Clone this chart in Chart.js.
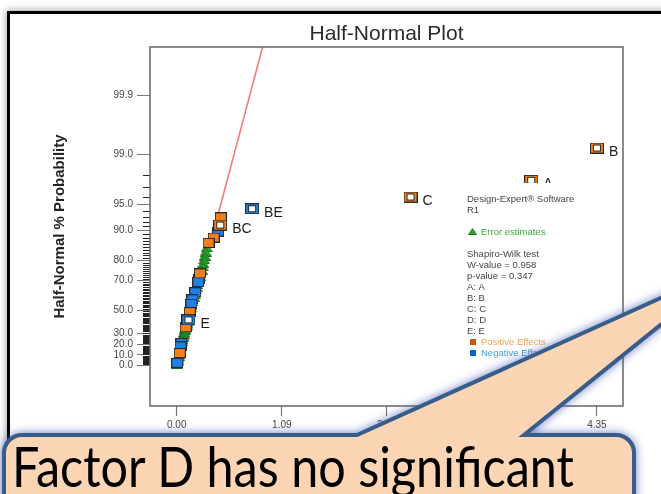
<!DOCTYPE html>
<html>
<head>
<meta charset="utf-8">
<script src="https://cdn.jsdelivr.net/npm/chart.js@4.4.1/dist/chart.umd.min.js"></script>
<style>
  html, body { margin: 0; padding: 0; background: #fff; }
  #stage { position: relative; width: 661px; height: 494px; overflow: hidden; background: #fff; }
  #frame { position: absolute; left: 7px; top: 11px; width: 720px; height: 540px;
           border: 3px solid #000; background: #fff; box-shadow: 0 0 7px 1px rgba(0,0,0,0.35); }
  #plot { position: absolute; left: 0; top: 0; }
  #note { position: absolute; left: 0; top: 0; pointer-events: none; }
</style>
</head>
<body>
<div id="stage">
  <div id="frame"></div>
  <canvas id="plot" width="661" height="494"></canvas>
  <svg id="note" width="661" height="494" viewBox="0 0 661 494">
    <defs>
      <filter id="glow" x="-10%" y="-40%" width="120%" height="180%">
        <feGaussianBlur in="SourceAlpha" stdDeviation="5" result="blur"/>
        <feFlood flood-color="#4b63b5" flood-opacity="0.8"/>
        <feComposite in2="blur" operator="in" result="halo"/>
        <feMerge><feMergeNode in="halo"/><feMergeNode in="SourceGraphic"/></feMerge>
      </filter>
    </defs>
    <path d="M4,600 L4,453 A18,18 0 0 1 22,435 L357,435 L736,264 L524,435 L616,435 A18,18 0 0 1 634,453 L634,600 Z"
          fill="#fcd5b5" stroke="#385d8a" stroke-width="4" stroke-linejoin="miter" filter="url(#glow)"/>
    <text x="12" y="487" font-family="Lato, 'Open Sans', sans-serif" font-size="56" fill="#000"
          textLength="562" lengthAdjust="spacingAndGlyphs">Factor D has no significant</text>
  </svg>
</div>
<script>
// ---- Effect estimates (|effect|) and their half-normal % probability ----
// Model terms (labelled)
const termNames = ['B', 'A', 'C', 'BE', 'BC', 'E'];
const termEffects = [4.35, 3.67, 2.42, 0.78, 0.45, 0.121];
const termPct = [99.2, 97.6, 96.0, 94.4, 91.3, 42.1];
const termSigns = ['+', '+', '+', '-', '+', '-'];

// Unselected positive effects
const positiveEffects = [0.456, 0.383, 0.329, 0.240, 0.135, 0.093, 0.031];
const positivePct = [92.9, 88.1, 86.5, 73.8, 48.4, 35.7, 11.9];

// Unselected negative effects
const negativeEffects = [0.428, 0.231, 0.223, 0.192, 0.163, 0.152, 0.049, 0.039, 0.005];
const negativePct = [89.7, 70.6, 69.0, 62.7, 57.9, 54.8, 21.4, 18.3, 2.4];

// Error estimates
const errorEffects = [0.311, 0.300, 0.290, 0.285, 0.275, 0.270, 0.260, 0.236, 0.212, 0.207,
                      0.197, 0.187, 0.176, 0.159, 0.148, 0.143, 0.138, 0.131, 0.126, 0.124,
                      0.114, 0.109, 0.104, 0.088, 0.083, 0.078, 0.073, 0.067, 0.062, 0.057,
                      0.055, 0.045, 0.036, 0.034, 0.032, 0.026, 0.021, 0.018, 0.013, 0.010, 0.000];
const errorPct = [84.9, 83.3, 81.7, 80.2, 78.6, 77.0, 75.4, 72.2, 67.5, 65.9,
                  64.3, 61.1, 59.5, 56.3, 53.2, 51.6, 50.0, 46.8, 45.2, 43.7,
                  40.5, 38.9, 37.3, 34.1, 32.5, 31.0, 29.4, 27.8, 26.2, 24.6,
                  23.0, 19.8, 16.7, 15.1, 13.5, 10.3, 8.7, 7.1, 5.6, 4.0, 0.8];

// Half-normal reference line through the error estimates
const fitEffects = [0.42, 0.89];
const fitPct = [92.9, 99.99];

// Axis ticks
const xTickValues = [0, 1.0875, 2.175, 3.2625, 4.35];
const xTickLabels = ['0.00', '1.09', '2.18', '3.26', '4.35'];
const yTickPct = [0, 10, 20, 30, 50, 70, 80, 90, 95, 99, 99.9];
const yTickLabels = ['0.0', '10.0', '20.0', '30.0', '50.0', '70.0', '80.0', '90.0', '95.0', '99.0', '99.9'];
const yMinorPct = Array.from({length: 98}, (_, i) => i + 1).filter(p => !yTickPct.includes(p));

// Side panel
const responseName = 'R1';
const shapiroW = '0.958';
const shapiroP = '0.347';
const factorNames = ['A', 'B', 'C', 'D', 'E'];

// ---- helpers ----
function probit(p) {
  const a = [-3.969683028665376e+01, 2.209460984245205e+02, -2.759285104469687e+02, 1.383577518672690e+02, -3.066479806614716e+01, 2.506628277459239e+00];
  const b = [-5.447609879822406e+01, 1.615858368580409e+02, -1.556989798598866e+02, 6.680131188771972e+01, -1.328068155288572e+01];
  const c = [-7.784894002430293e-03, -3.223964580411365e-01, -2.400758277161838e+00, -2.549732539343734e+00, 4.374664141464968e+00, 2.938163982698783e+00];
  const d = [7.784695709041462e-03, 3.224671290700398e-01, 2.445134137142996e+00, 3.754408661907416e+00];
  const pl = 0.02425, ph = 1 - pl;
  let q, r;
  if (p < pl) {
    q = Math.sqrt(-2 * Math.log(p));
    return (((((c[0]*q+c[1])*q+c[2])*q+c[3])*q+c[4])*q+c[5]) / ((((d[0]*q+d[1])*q+d[2])*q+d[3])*q+1);
  }
  if (p <= ph) {
    q = p - 0.5; r = q * q;
    return (((((a[0]*r+a[1])*r+a[2])*r+a[3])*r+a[4])*r+a[5])*q / (((((b[0]*r+b[1])*r+b[2])*r+b[3])*r+b[4])*r+1);
  }
  q = Math.sqrt(-2 * Math.log(1 - p));
  return -(((((c[0]*q+c[1])*q+c[2])*q+c[3])*q+c[4])*q+c[5]) / ((((d[0]*q+d[1])*q+d[2])*q+d[3])*q+1);
}
// half-normal quantile of a cumulative percentage
const hnz = pct => probit(0.5 + pct / 200);
const toPoints = (xs, ps) => xs.map((x, i) => ({x: x, y: hnz(ps[i])}));

const ORANGE = '#f0801c', BLUE = '#1f80ea', GREEN = '#2ca42c';
const FONT = "'Liberation Sans', Arial, sans-serif";

function squareMarker(fill, hollow) {
  const w = hollow ? 14 : 12, h = hollow ? 11 : 10;
  const cv = document.createElement('canvas');
  cv.width = w; cv.height = h;
  const g = cv.getContext('2d');
  g.fillStyle = fill; g.fillRect(0, 0, w, h);
  g.strokeStyle = '#2a2a2a'; g.lineWidth = 1;
  g.strokeRect(0.5, 0.5, w - 1, h - 1);
  if (hollow) {
    g.fillStyle = '#fff'; g.fillRect(3.5, 2.5, w - 7, h - 5);
    g.strokeRect(3.5, 2.5, w - 7, h - 5);
  }
  return cv;
}
function triangleMarker(fill) {
  const cv = document.createElement('canvas');
  cv.width = 12; cv.height = 9;
  const g = cv.getContext('2d');
  g.beginPath(); g.moveTo(0.5, 8.5); g.lineTo(6, 0.5); g.lineTo(11.5, 8.5); g.closePath();
  g.fillStyle = fill; g.fill();
  g.strokeStyle = '#1d6a1d'; g.lineWidth = 1; g.stroke();
  return cv;
}
const mkOrange = squareMarker(ORANGE, false);
const mkBlue = squareMarker(BLUE, false);
const mkOrangeHollow = squareMarker(ORANGE, true);
const mkBlueHollow = squareMarker(BLUE, true);
const mkGreen = triangleMarker(GREEN);

// minor ticks, term labels, side panel and plot frame
const decor = {
  id: 'decor',
  beforeDatasetsDraw(chart) {
    const {ctx, scales: {y}, chartArea: a} = chart;
    ctx.save();
    ctx.strokeStyle = '#222'; ctx.lineWidth = 1;
    yMinorPct.forEach(p => {
      const py = Math.round(y.getPixelForValue(hnz(p))) + 0.5;
      ctx.beginPath(); ctx.moveTo(a.left - 7, py); ctx.lineTo(a.left, py); ctx.stroke();
    });
    ctx.restore();
  },
  afterDatasetsDraw(chart) {
    const {ctx, chartArea: a} = chart;
    ctx.save();
    // term labels
    const meta = chart.getDatasetMeta(0);
    ctx.font = '14px ' + FONT; ctx.fillStyle = '#1c1c1c'; ctx.textBaseline = 'middle'; ctx.textAlign = 'left';
    meta.data.forEach((el, i) => ctx.fillText(termNames[i], el.x + 12, el.y + 4));

    // side panel
    const px = a.right - 167, top = 183;
    ctx.fillStyle = '#fff';
    ctx.fillRect(px, top, a.right - px - 1, 200);
    const tx = px + 11;
    ctx.font = '9.5px ' + FONT;
    const plain = '#454545';
    const rows = [
      ['Design-Expert® Software', 199, plain],
      [responseName, 210, plain],
      ['Shapiro-Wilk test', 254, plain],
      ['W-value = ' + shapiroW, 265, plain],
      ['p-value = ' + shapiroP, 276, plain]
    ];
    factorNames.forEach((f, i) => rows.push([f + ': ' + f, 287 + 11 * i, plain]));
    rows.forEach(r => { ctx.fillStyle = r[2]; ctx.fillText(r[0], tx, r[1]); });
    ctx.drawImage(mkGreen, tx + 1, 232 - 4, 9, 7);
    ctx.fillStyle = '#3dab3d'; ctx.fillText('Error estimates', tx + 14, 232);
    ctx.fillStyle = '#c85a10'; ctx.fillRect(tx + 3, 339, 6, 6);
    ctx.fillStyle = '#eaa45a'; ctx.fillText('Positive Effects', tx + 14, 342);
    ctx.fillStyle = '#1060c8'; ctx.fillRect(tx + 3, 350, 6, 6);
    ctx.fillStyle = '#3f9de0'; ctx.fillText('Negative Effects', tx + 14, 353);

    // plot frame
    ctx.strokeStyle = '#6f6f6f'; ctx.lineWidth = 1.6;
    ctx.strokeRect(a.left, a.top, a.right - a.left, a.bottom - a.top);
    ctx.restore();
  }
};

new Chart(document.getElementById('plot'), {
  type: 'scatter',
  data: {
    datasets: [
      { label: 'Model terms', data: toPoints(termEffects, termPct), order: 0,
        pointStyle: termSigns.map(s => s === '+' ? mkOrangeHollow : mkBlueHollow) },
      { label: 'Positive Effects', data: toPoints(positiveEffects, positivePct), order: 1, pointStyle: mkOrange },
      { label: 'Negative Effects', data: toPoints(negativeEffects, negativePct), order: 2, pointStyle: mkBlue },
      { label: 'Error estimates', data: toPoints(errorEffects, errorPct), order: 3, pointStyle: mkGreen },
      { label: 'Half-normal line', type: 'line', data: toPoints(fitEffects, fitPct), order: 4,
        borderColor: '#f07a7a', borderWidth: 1.6, pointRadius: 0, fill: false, tension: 0 }
    ]
  },
  options: {
    responsive: false,
    animation: false,
    devicePixelRatio: 1,
    layout: { padding: { left: 0, right: 38, top: 9, bottom: 28 } },
    plugins: {
      legend: { display: false },
      tooltip: { enabled: false },
      title: {
        display: true, text: 'Half-Normal Plot', fullSize: false, color: '#2a2a2a',
        font: { family: FONT, size: 21, weight: 'normal', lineHeight: 1.2 },
        padding: { top: 12.8, bottom: 0 }
      }
    },
    scales: {
      x: {
        type: 'linear', min: -0.277, max: 4.62,
        afterBuildTicks: ax => { ax.ticks = xTickValues.map(v => ({ value: v })); },
        afterFit: s => { s.height = 60; },
        ticks: { autoSkip: false, maxRotation: 0, padding: 3, color: '#444',
                 font: { family: FONT, size: 10 }, callback: (v, i) => xTickLabels[i] },
        grid: { drawOnChartArea: false, tickLength: 10, tickColor: '#777', tickWidth: 1.2 },
        border: { display: false }
      },
      y: {
        type: 'linear', min: -0.497, max: 3.885,
        afterBuildTicks: ax => { ax.ticks = yTickPct.map(p => ({ value: hnz(p) })); },
        afterFit: s => { s.width = 150; },
        ticks: { autoSkip: false, padding: 4, color: '#444',
                 font: { family: FONT, size: 10 }, callback: (v, i) => yTickLabels[i] },
        grid: { drawOnChartArea: false, tickLength: 13, tickColor: '#777', tickWidth: 1 },
        border: { display: false },
        title: { display: true, text: 'Half-Normal % Probability', color: '#222',
                 font: { family: FONT, size: 15, weight: 'bold', lineHeight: 1.2 },
                 padding: { top: 51, bottom: 0 } }
      }
    }
  },
  plugins: [decor]
});
</script>
</body>
</html>
